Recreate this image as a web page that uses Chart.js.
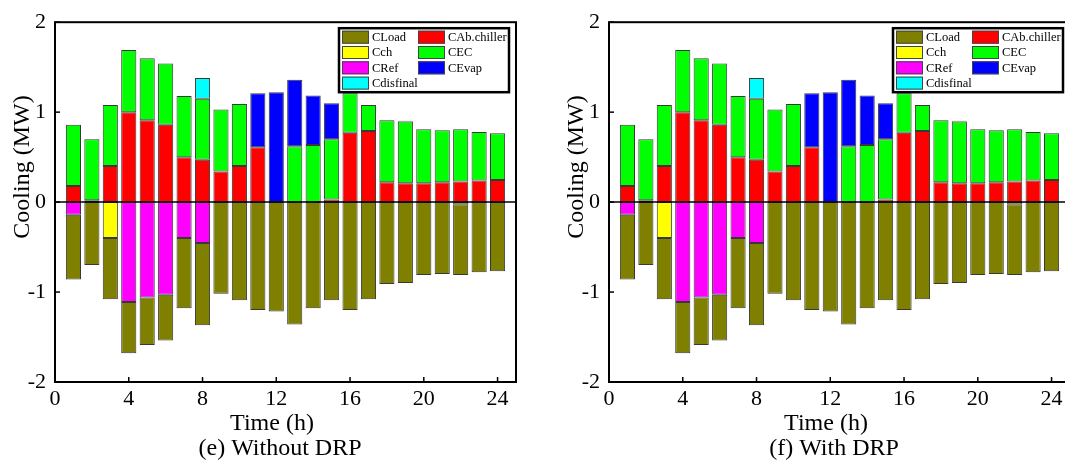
<!DOCTYPE html>
<html>
<head>
<meta charset="utf-8">
<script src="https://cdn.jsdelivr.net/npm/chart.js@4"></script>
<style>
  html, body { margin: 0; padding: 0; background: #fff; }
  body { width: 1065px; height: 466px; position: relative; overflow: hidden; }
  .panel { position: absolute; top: 0; width: 545px; height: 466px; }
</style>
</head>
<body>
<div class="panel" style="left:0"><canvas id="chartE" width="545" height="466"></canvas></div>
<div class="panel" style="left:554px"><canvas id="chartF" width="545" height="466"></canvas></div>
<script>
// hours 1..24, values in MW
var hours = [1,2,3,4,5,6,7,8,9,10,11,12,13,14,15,16,17,18,19,20,21,22,23,24];
var yTicks = [-2, -1, 0, 1, 2];
var xTicks = [0, 4, 8, 12, 16, 20, 24];

// positive side (supply)
var cAbChiller = [0.18,0.02,0.40,1.00,0.91,0.86,0.50,0.47,0.34,0.40,0.61,0,0,0,0.03,0.77,0.79,0.22,0.21,0.21,0.22,0.23,0.24,0.245];
var cEC        = [0.68,0.68,0.68,0.69,0.69,0.68,0.68,0.68,0.69,0.69,0,0,0.62,0.635,0.67,0.44,0.29,0.69,0.685,0.60,0.58,0.58,0.54,0.52];
var cEvap      = [0,0,0,0,0,0,0,0,0,0,0.60,1.22,0.74,0.55,0.40,0,0,0,0.01,0,0,0,0,0];
var cDisfinal  = [0,0,0,0,0,0,0,0.23,0,0,0,0,0,0,0,0,0,0,0,0,0,0,0,0];
// negative side (demand)
var cCh        = [0,0,-0.40,0,0,0,0,0,0,0,0,0,0,0,0,0,0,0,0,0,0,-0.025,0,0];
var cRef       = [-0.14,0,0,-1.11,-1.06,-1.03,-0.40,-0.455,0,0,0,0,0,0,0,0,0,0,0,0,0,0,0,0];
var cLoad      = [-0.72,-0.70,-0.68,-0.57,-0.53,-0.51,-0.78,-0.915,-1.02,-1.09,-1.20,-1.215,-1.36,-1.18,-1.09,-1.20,-1.08,-0.91,-0.90,-0.81,-0.80,-0.785,-0.78,-0.77];

var legendOrder = ['CLoad', 'CAb.chiller', 'Cch', 'CEC', 'CRef', 'CEvap', 'Cdisfinal'];
var serif = '"Liberation Serif", "Times New Roman", serif';

function pts(vals) {
    return hours.map(function (h, i) { return {x: h, y: vals[i] === 0 ? null : vals[i]}; });
}

function ds(label, vals, color) {
    return {
        label: label,
        data: pts(vals),
        backgroundColor: color,
        borderColor: '#383838',
        borderWidth: 1,
        borderSkipped: false,
        barPercentage: 0.82,
        categoryPercentage: 1
    };
}

function line(ctx, x1, y1, x2, y2) {
    ctx.beginPath();
    ctx.moveTo(x1, y1);
    ctx.lineTo(x2, y2);
    ctx.stroke();
}

var decor = {
    id: 'decor',
    afterDatasetsDraw: function (chart, args, opts) {
        var ctx = chart.ctx, a = chart.chartArea;
        var x = chart.scales.x, y = chart.scales.y;
        ctx.save();
        ctx.strokeStyle = '#000';
        ctx.lineWidth = 1.5;
        var y0 = y.getPixelForValue(0);
        line(ctx, a.left, y0, a.right, y0);
        ctx.lineWidth = 2;
        ctx.strokeRect(a.left, a.top, a.right - a.left, a.bottom - a.top);
        ctx.lineWidth = 1.5;
        y.ticks.forEach(function (t) {
            var p = y.getPixelForValue(t.value);
            line(ctx, a.left, p, a.left + 5, p);
        });
        x.ticks.forEach(function (t) {
            var p = x.getPixelForValue(t.value);
            line(ctx, p, a.bottom, p, a.bottom - 5);
        });

        // legend box inside the plot, top right
        var bx = a.right - 177, by = a.top + 6, bw = 170, bh = 64;
        ctx.fillStyle = '#fff';
        ctx.fillRect(bx, by, bw, bh);
        ctx.lineWidth = 2.5;
        ctx.strokeRect(bx, by, bw, bh);
        ctx.font = '12.5px ' + serif;
        ctx.textAlign = 'left';
        ctx.textBaseline = 'middle';
        legendOrder.forEach(function (name, i) {
            var d = chart.data.datasets.find(function (s) { return s.label === name; });
            var col = i % 2, row = Math.floor(i / 2);
            var sx = bx + 3 + col * 76, sy = by + 2.5 + row * 15.3;
            ctx.fillStyle = d.backgroundColor;
            ctx.fillRect(sx, sy, 27, 13);
            ctx.lineWidth = 1;
            ctx.strokeStyle = '#444';
            ctx.strokeRect(sx + 0.5, sy + 0.5, 26, 12);
            ctx.fillStyle = '#000';
            ctx.fillText(name, sx + 30, sy + 7);
        });

        // axis titles and panel caption
        ctx.fillStyle = '#000';
        ctx.font = '24px ' + serif;
        ctx.textAlign = 'center';
        ctx.textBaseline = 'middle';
        ctx.fillText('Time (h)', a.left + 217, 424);
        ctx.fillText(opts.caption, a.left + 225, 449);
        ctx.translate(a.left - 32, 167);
        ctx.rotate(-Math.PI / 2);
        ctx.fillText('Cooling (MW)', 0, 0);
        ctx.restore();
    }
};

function makeChart(id, caption) {
    var ctx = document.getElementById(id).getContext('2d');
    return new Chart(ctx, {
        type: 'bar',
        data: {
            datasets: [
                ds('CAb.chiller', cAbChiller, '#ff0000'),
                ds('CEC', cEC, '#00ff00'),
                ds('CEvap', cEvap, '#0000ff'),
                ds('Cdisfinal', cDisfinal, '#00ffff'),
                ds('Cch', cCh, '#ffff00'),
                ds('CRef', cRef, '#ff00ff'),
                ds('CLoad', cLoad, '#808000')
            ]
        },
        options: {
            responsive: false,
            animation: false,
            layout: { padding: { top: 11, right: 29, left: 0, bottom: 0 } },
            plugins: {
                legend: { display: false },
                tooltip: { enabled: false },
                decor: { caption: caption }
            },
            scales: {
                x: {
                    type: 'linear',
                    stacked: true,
                    offset: false,
                    min: 0,
                    max: 25,
                    afterFit: function (s) { s.height = 84; },
                    afterBuildTicks: function (s) { s.ticks = xTicks.map(function (v) { return {value: v}; }); },
                    grid: { display: false, offset: false, drawTicks: false },
                    border: { display: false },
                    ticks: {
                        padding: 4,
                        maxRotation: 0,
                        color: '#000',
                        font: { family: serif, size: 22 }
                    }
                },
                y: {
                    stacked: true,
                    min: -2,
                    max: 2,
                    afterFit: function (s) { s.width = 55; },
                    afterBuildTicks: function (s) { s.ticks = yTicks.map(function (v) { return {value: v}; }); },
                    grid: { display: false, drawTicks: false },
                    border: { display: false },
                    ticks: {
                        padding: 9,
                        color: '#000',
                        font: { family: serif, size: 22 }
                    }
                }
            }
        },
        plugins: [decor]
    });
}

window.onload = function () {
    makeChart('chartE', '(e) Without DRP');
    makeChart('chartF', '(f) With DRP');
};
</script>
</body>
</html>
